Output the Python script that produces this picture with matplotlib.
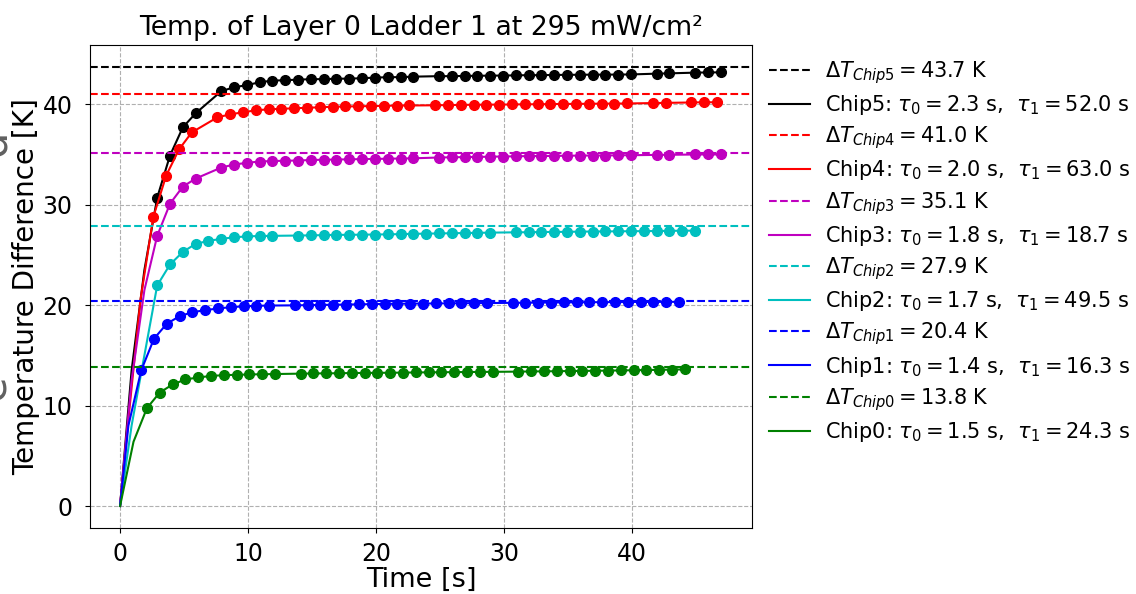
import matplotlib
matplotlib.use('Agg')
import matplotlib.pyplot as plt

# chip order as drawn: Chip5 ... Chip0
chips = ['Chip5', 'Chip4', 'Chip3', 'Chip2', 'Chip1', 'Chip0']
colors = ['k', 'r', 'm', 'c', 'b', 'g']
dT = [43.7, 41.0, 35.1, 27.9, 20.4, 13.8]
tau0 = [2.3, 2.0, 1.8, 1.7, 1.4, 1.5]
tau1 = [52.0, 63.0, 18.7, 49.5, 16.3, 24.3]

# measured points
t5 = [2.9, 3.9, 4.9, 5.9, 7.9, 8.9, 9.9, 10.9, 11.9, 12.9, 13.9, 14.9, 15.9, 16.9, 17.9, 18.9, 19.9, 20.9, 21.9, 22.9,
      24.9, 25.9, 26.9, 27.9, 28.9, 29.9, 30.9, 31.9, 32.9, 33.9, 34.9, 35.9, 36.9, 37.9, 38.9, 39.9,
      41.9, 42.9, 44.9, 45.9, 46.9]
v5 = [30.7, 34.9, 37.7, 39.1, 41.3, 41.7, 41.9, 42.2, 42.35, 42.4, 42.45, 42.5, 42.5, 42.55, 42.55, 42.6, 42.65, 42.7, 42.7, 42.75,
      42.8, 42.8, 42.82, 42.84, 42.85, 42.86, 42.88, 42.9, 42.9, 42.92, 42.93, 42.94, 42.95, 42.95, 42.96, 42.97,
      43.05, 43.08, 43.15, 43.17, 43.18]

t4 = [2.6, 3.6, 4.6, 5.6, 7.6, 8.6, 9.6, 10.6, 11.6, 12.6, 13.6, 14.6, 15.6, 16.6, 17.6, 18.6, 19.6, 20.6, 21.6, 22.6,
      24.6, 25.6, 26.6, 27.6, 28.6, 29.6, 30.6, 31.6, 32.6, 33.6, 34.6, 35.6, 36.6, 37.6, 38.6, 39.6,
      41.6, 42.6, 44.6, 45.6, 46.6]
v4 = [28.8, 32.9, 35.5, 37.2, 38.7, 39.0, 39.2, 39.4, 39.5, 39.55, 39.6, 39.65, 39.7, 39.75, 39.78, 39.8, 39.82, 39.85, 39.87, 39.88,
      39.9, 39.92, 39.94, 39.95, 39.96, 39.97, 39.98, 40.0, 40.0, 40.02, 40.03, 40.04, 40.05, 40.06, 40.07, 40.08,
      40.12, 40.14, 40.18, 40.2, 40.2]

t3 = [2.9, 3.9, 4.9, 5.9, 7.9, 8.9, 9.9, 10.9, 11.9, 12.9, 13.9, 14.9, 15.9, 16.9, 17.9, 18.9, 19.9, 20.9, 21.9, 22.9,
      24.9, 25.9, 26.9, 27.9, 28.9, 29.9, 30.9, 31.9, 32.9, 33.9, 34.9, 35.9, 36.9, 37.9, 38.9, 39.9,
      41.9, 42.9, 44.9, 45.9, 46.9]
v3 = [26.9, 30.1, 31.8, 32.6, 33.7, 34.0, 34.17, 34.3, 34.35, 34.38, 34.4, 34.45, 34.48, 34.5, 34.52, 34.54, 34.56, 34.58, 34.6, 34.62,
      34.7, 34.72, 34.74, 34.76, 34.78, 34.8, 34.82, 34.84, 34.85, 34.86, 34.88, 34.89, 34.9, 34.9, 34.92, 34.93,
      34.96, 34.97, 35.0, 35.0, 35.0]

t2 = [2.9, 3.9, 4.9, 5.9, 6.9, 7.9, 8.9, 9.9, 10.9, 11.9, 13.9, 14.9, 15.9, 16.9, 17.9, 18.9, 19.9, 20.9, 21.9, 22.9,
      23.9, 24.9, 25.9, 26.9, 27.9, 28.9, 30.9, 31.9, 32.9, 33.9, 34.9, 35.9, 36.9, 37.9, 38.9, 39.9,
      40.9, 41.9, 42.9, 43.9, 44.9]
v2 = [21.96, 24.05, 25.3, 26.1, 26.4, 26.6, 26.75, 26.85, 26.88, 26.9, 26.93, 26.95, 26.97, 27.0, 27.0, 27.02, 27.03, 27.05, 27.07, 27.1,
      27.12, 27.14, 27.16, 27.18, 27.2, 27.22, 27.25, 27.26, 27.28, 27.29, 27.3, 27.32, 27.33, 27.34, 27.35, 27.36,
      27.37, 27.38, 27.4, 27.41, 27.42]

t1 = [1.65, 2.65, 3.65, 4.65, 5.65, 6.65, 7.65, 8.65, 9.65, 10.65, 11.65, 13.65, 14.65, 15.65, 16.65, 17.65, 18.65, 19.65, 20.65,
      21.65, 22.65, 23.65, 24.65, 25.65, 26.65, 27.65, 28.65, 30.65, 31.65, 32.65, 33.65, 34.65, 35.65, 36.65, 37.65,
      38.65, 39.65, 40.65, 41.65, 42.65, 43.65]
v1 = [13.5, 16.66, 18.15, 18.9, 19.3, 19.5, 19.67, 19.8, 19.88, 19.93, 19.96, 19.98, 20.0, 20.02, 20.04, 20.06, 20.08, 20.1, 20.12,
      20.14, 20.15, 20.16, 20.17, 20.18, 20.19, 20.2, 20.21, 20.23, 20.24, 20.25, 20.26, 20.27, 20.28, 20.29, 20.3,
      20.3, 20.31, 20.32, 20.32, 20.33, 20.33]

t0 = [2.1, 3.1, 4.1, 5.1, 6.1, 7.1, 8.1, 9.1, 10.1, 11.1, 12.1, 14.1, 15.1, 16.1, 17.1, 18.1, 19.1, 20.1, 21.1, 22.1,
      23.1, 24.1, 25.1, 26.1, 27.1, 28.1, 29.1, 31.1, 32.1, 33.1, 34.1, 35.1, 36.1, 37.1, 38.1, 39.1,
      40.1, 41.1, 42.1, 43.1, 44.1]
v0 = [9.75, 11.3, 12.1, 12.6, 12.8, 12.95, 13.03, 13.06, 13.1, 13.12, 13.14, 13.18, 13.2, 13.21, 13.22, 13.24, 13.25, 13.26, 13.27, 13.28,
      13.3, 13.31, 13.32, 13.33, 13.34, 13.35, 13.36, 13.38, 13.4, 13.41, 13.42, 13.44, 13.45, 13.47, 13.48, 13.5,
      13.52, 13.54, 13.56, 13.58, 13.6]

# start of the fitted curves, before the first measured point
head_t = [[0, 0.9, 1.9], [0, 0.6, 1.6], [0, 0.9, 1.9], [0, 0.9, 1.9], [0, 0.65], [0, 1.05]]
head_v = [[0, 13.5, 23.5], [0, 8.0, 20.6], [0, 12.5, 21.5], [0, 8.0, 15.0], [0, 8.0], [0, 6.4]]

times = [t5, t4, t3, t2, t1, t0]
vals = [v5, v4, v3, v2, v1, v0]

fig = plt.figure(figsize=(11.36, 5.94), dpi=100)
ax = fig.add_axes([0.0792, 0.1111, 0.5828, 0.8131])

for i in range(len(chips)):
    ax.axhline(dT[i], color=colors[i], linestyle='--', lw=1.5,
               label=r'$\Delta T_{' + chips[i] + '} = ' + '%.1f' % dT[i] + '$ K')
    ax.plot(head_t[i] + times[i], head_v[i] + vals[i], color=colors[i], lw=1.5,
            label=chips[i] + r': $\tau_0 = ' + '%.1f' % tau0[i] + r'$ s,  $\tau_1 = ' + '%.1f' % tau1[i] + '$ s')
    ax.plot(times[i], vals[i], 'o', color=colors[i], markersize=7)

ax.set_xlim(-2.35, 49.35)
ax.set_ylim(-2.19, 45.9)
ax.set_xticks([0, 10, 20, 30, 40])
ax.set_yticks([0, 10, 20, 30, 40])
ax.tick_params(labelsize=17)
ax.tick_params(axis='y', pad=9)
ax.tick_params(axis='x', pad=6.5)
ax.grid(linestyle='--', color='#b0b0b0', lw=0.8)
ax.set_xlabel('Time [s]', fontsize=19.5, labelpad=1)
ax.set_ylabel('Temperature Difference [K]', fontsize=20, labelpad=2)
ax.set_title('Temp. of Layer 0 Ladder 1 at 295 mW/cm²', fontsize=19.2, pad=7)
ax.legend(loc='upper left', bbox_to_anchor=(0.997, 1.01), frameon=False, fontsize=15,
          labelspacing=0.35, handletextpad=0.7)

# cut-off letters of the neighbouring panel
fig.text(-0.024, 0.759, 'd', rotation=90, color='#606060', fontsize=30, va='center', ha='left')
fig.text(-0.024, 0.348, 'e', rotation=90, color='#606060', fontsize=30, va='center', ha='left')

fig.savefig('out.png', dpi=100)
